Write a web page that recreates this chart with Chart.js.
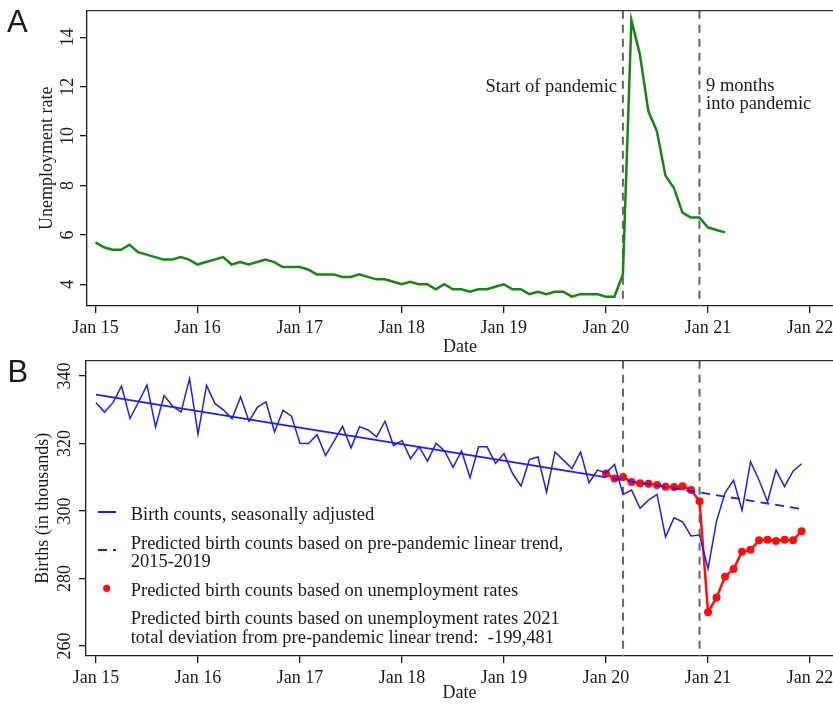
<!DOCTYPE html>
<html>
<head>
<meta charset="utf-8">
<script src="https://cdn.jsdelivr.net/npm/chart.js@4.4.1/dist/chart.umd.min.js"></script>
<style>
  html, body { margin: 0; padding: 0; background: #fff; }
  #wrap { position: relative; width: 833px; height: 705px; overflow: hidden; }
  #wrap canvas { position: absolute; left: 0; }
  #unempChart { top: 0; }
  #birthChart { top: 355px; }
</style>
</head>
<body>
<div id="wrap">
  <canvas id="unempChart" width="833" height="358"></canvas>
  <canvas id="birthChart" width="833" height="350"></canvas>
</div>
<script>
// month helpers: "YYYY-MM" -> months since Jan 2015
function monthIndex(s) {
  const [y, m] = s.split("-").map(Number);
  return (y - 2015) * 12 + (m - 1);
}
function monthRange(from, to) {
  const out = [];
  let [y, m] = from.split("-").map(Number);
  const [ye, me] = to.split("-").map(Number);
  while (y < ye || (y === ye && m <= me)) {
    out.push(y + "-" + String(m).padStart(2, "0"));
    m++;
    if (m > 12) { m = 1; y++; }
  }
  return out;
}

// ---- data ----
const unemploymentMonths = monthRange("2015-01", "2021-03");
const unemploymentRate = [
  5.7, 5.5, 5.4, 5.4, 5.6, 5.3, 5.2, 5.1, 5.0, 5.0, 5.1, 5.0,
  4.8, 4.9, 5.0, 5.1, 4.8, 4.9, 4.8, 4.9, 5.0, 4.9, 4.7, 4.7,
  4.7, 4.6, 4.4, 4.4, 4.4, 4.3, 4.3, 4.4, 4.3, 4.2, 4.2, 4.1,
  4.0, 4.1, 4.0, 4.0, 3.8, 4.0, 3.8, 3.8, 3.7, 3.8, 3.8, 3.9,
  4.0, 3.8, 3.8, 3.6, 3.7, 3.6, 3.7, 3.7, 3.5, 3.6, 3.6, 3.6,
  3.5, 3.5, 4.4, 14.7, 13.3, 11.0, 10.2, 8.4, 7.9, 6.9, 6.7, 6.7,
  6.3, 6.2, 6.1
];

const birthMonths = monthRange("2015-01", "2021-12");
const birthCounts = [
  332.1, 329.3, 332.1, 337.0, 327.4, 332.3, 337.3, 324.9, 334.2, 331.1, 329.3, 339.2,
  322.8, 337.2, 331.8, 329.9, 327.3, 333.8, 326.6, 330.8, 332.3, 323.4, 329.8, 328.1,
  320.0, 320.0, 322.6, 316.4, 320.7, 325.1, 318.7, 325.0, 324.0, 322.0, 326.6, 319.4,
  320.9, 315.5, 319.0, 314.8, 320.1, 317.8, 312.9, 317.8, 309.9, 319.0, 319.0, 314.1,
  317.0, 311.1, 307.4, 315.3, 316.0, 305.6, 317.5, 315.0, 312.6, 317.5, 308.4, 312.1,
  311.3, 313.8, 304.9, 306.2, 300.8, 303.2, 304.9, 292.3, 298.0, 296.8, 292.6, 292.9,
  282.9, 297.0, 305.4, 309.1, 300.2, 314.6, 309.1, 302.8, 312.1, 307.2, 311.8, 314.0
];

const trendMonths = ["2015-01", "2019-12"];
const trendValues = [334.5, 310.4];
const trendForecastMonths = ["2019-12", "2021-12"];
const trendForecastValues = [310.4, 300.6];

const predictedMonths = monthRange("2020-01", "2021-12");
const predictedBirths = [
  311.1, 309.6, 310.1, 308.6, 308.2, 308.1, 307.7, 307.2, 307.1, 307.3, 306.2, 302.9,
  270.0, 274.4, 280.5, 282.8, 287.9, 288.5, 291.3, 291.5, 291.1, 291.5, 291.3, 294.0
];

const eventMonths = ["2020-03", "2020-12"];
const xTickLabels = ["Jan 15", "Jan 16", "Jan 17", "Jan 18", "Jan 19", "Jan 20", "Jan 21", "Jan 22"];
const unempTicks = [4, 6, 8, 10, 12, 14];
const birthTicks = [260, 280, 300, 320, 340];

const legendLabels = [
  ["Birth counts, seasonally adjusted"],
  ["Predicted birth counts based on pre-pandemic linear trend,", "2015-2019"],
  ["Predicted birth counts based on unemployment rates"],
  ["Predicted birth counts based on unemployment rates 2021",
   "total deviation from pre-pandemic linear trend:  -199,481"]
];

// ---- styling ----
const SERIF = "'Liberation Serif', 'Times New Roman', serif";
const SANS = "'Liberation Sans', Arial, sans-serif";
const INK = "#1a1a1a";
const GREEN = "#118811";
const BLUE = "#1c1cff";
const RED = "#ff0d0d";

function tickIndex(label) {
  return (2000 + Number(label.slice(4)) - 2015) * 12;
}
function points(months, values) {
  return values.map((v, i) => ({ x: monthIndex(months[i]), y: v }));
}

function xAxis(min, height, titlePad) {
  return {
    type: "linear",
    min: min,
    max: 86.7,
    afterBuildTicks: (s) => { s.ticks = xTickLabels.map((l) => ({ value: tickIndex(l) })); },
    ticks: {
      callback: (v, i) => xTickLabels[i],
      font: { family: SERIF, size: 18 },
      color: INK,
      padding: 4,
      maxRotation: 0,
      autoSkip: false
    },
    grid: { display: true, drawOnChartArea: false, drawTicks: true, tickLength: 7, color: INK, lineWidth: 1.3 },
    border: { display: true, color: INK, width: 1.3 },
    title: { display: true, text: "Date", font: { family: SERIF, size: 18 }, color: INK, padding: { top: 0, bottom: titlePad } },
    afterFit: (s) => { s.height = height; s.paddingLeft = 0; s.paddingRight = 0; }
  };
}

function yAxis(min, max, ticks, title, width, titlePad) {
  return {
    min: min,
    max: max,
    afterBuildTicks: (s) => { s.ticks = ticks.map((v) => ({ value: v })); },
    ticks: { display: false },
    grid: { display: true, drawOnChartArea: false, drawTicks: true, tickLength: 7, color: INK, lineWidth: 1.3 },
    border: { display: true, color: INK, width: 1.3 },
    title: { display: true, text: title, font: { family: SERIF, size: 18 }, color: INK, padding: { top: titlePad, bottom: 0 } },
    afterFit: (s) => { s.width = width; }
  };
}

// dashed event lines, top frame line, rotated y tick labels, panel letter, extras
const panelDecor = {
  id: "panelDecor",
  beforeDatasetsDraw(chart) {
    const { ctx, chartArea: a, scales: { x } } = chart;
    ctx.save();
    ctx.strokeStyle = "#666";
    ctx.lineWidth = 2;
    ctx.setLineDash([8, 6]);
    eventMonths.forEach((m) => {
      const px = x.getPixelForValue(monthIndex(m));
      ctx.beginPath();
      ctx.moveTo(px, a.top);
      ctx.lineTo(px, a.bottom);
      ctx.stroke();
    });
    ctx.restore();
  },
  afterDraw(chart, args, opts) {
    const { ctx, chartArea: a, scales: { y } } = chart;
    ctx.save();
    ctx.strokeStyle = "#333";
    ctx.lineWidth = 1.3;
    ctx.beginPath();
    ctx.moveTo(a.left, a.top);
    ctx.lineTo(a.right, a.top);
    ctx.stroke();

    ctx.fillStyle = INK;
    ctx.font = "18px " + SERIF;
    ctx.textAlign = "center";
    ctx.textBaseline = "middle";
    opts.yTicks.forEach((v) => {
      ctx.save();
      ctx.translate(opts.tickLabelX, y.getPixelForValue(v));
      ctx.rotate(-Math.PI / 2);
      ctx.fillText(String(v), 0, 0);
      ctx.restore();
    });

    ctx.font = "31px " + SANS;
    ctx.textAlign = "left";
    ctx.textBaseline = "alphabetic";
    ctx.fillText(opts.letter, opts.letterX, opts.letterY);

    if (opts.extra) opts.extra(ctx, chart);
    ctx.restore();
  }
};

// ---- Panel A ----
new Chart(document.getElementById("unempChart"), {
  type: "line",
  data: {
    datasets: [{
      data: points(unemploymentMonths, unemploymentRate),
      borderColor: GREEN,
      borderWidth: 2.5,
      pointRadius: 0,
      tension: 0
    }]
  },
  options: {
    responsive: false,
    animation: false,
    layout: { autoPadding: false, padding: { top: 10.7, right: 0, bottom: 0, left: 0 } },
    plugins: {
      legend: { display: false },
      tooltip: { enabled: false },
      panelDecor: {
        yTicks: unempTicks,
        tickLabelX: 68.3,
        letter: "A",
        letterX: 7,
        letterY: 32,
        extra: (ctx) => {
          ctx.font = "18.5px " + SERIF;
          ctx.textBaseline = "alphabetic";
          ctx.textAlign = "right";
          ctx.fillText("Start of pandemic", 617, 91.5);
          ctx.textAlign = "left";
          ctx.fillText("9 months", 706, 91);
          ctx.fillText("into pandemic", 706, 109);
        }
      }
    },
    scales: {
      x: xAxis(-1.0, 52, 0.2),
      y: yAxis(3.121, 15.077, unempTicks, "Unemployment rate", 87, 36)
    }
  },
  plugins: [panelDecor]
});

// ---- Panel B ----
new Chart(document.getElementById("birthChart"), {
  type: "line",
  data: {
    datasets: [
      {
        data: points(birthMonths, birthCounts),
        borderColor: BLUE,
        borderWidth: 1.5,
        pointRadius: 0,
        tension: 0
      },
      {
        data: points(trendMonths, trendValues),
        borderColor: BLUE,
        borderWidth: 1.8,
        pointRadius: 0
      },
      {
        data: points(trendForecastMonths, trendForecastValues),
        borderColor: BLUE,
        borderWidth: 1.8,
        borderDash: [9, 6],
        pointRadius: 0
      },
      {
        data: points(predictedMonths, predictedBirths),
        borderColor: RED,
        backgroundColor: RED,
        borderWidth: 2.5,
        pointRadius: 4,
        pointBorderWidth: 0,
        pointBackgroundColor: RED
      }
    ]
  },
  options: {
    responsive: false,
    animation: false,
    layout: { autoPadding: false, padding: { top: 5.7, right: 0, bottom: 0, left: 0 } },
    plugins: {
      legend: { display: false },
      tooltip: { enabled: false },
      panelDecor: {
        yTicks: birthTicks,
        tickLabelX: 65.5,
        letter: "B",
        letterX: 7.5,
        letterY: 26.7,
        extra: (ctx) => {
          // legend keys
          ctx.strokeStyle = BLUE;
          ctx.lineWidth = 2;
          ctx.beginPath(); ctx.moveTo(98, 157); ctx.lineTo(116, 157); ctx.stroke();
          ctx.setLineDash([9, 6]);
          ctx.beginPath(); ctx.moveTo(98, 195); ctx.lineTo(116, 195); ctx.stroke();
          ctx.setLineDash([]);
          ctx.fillStyle = RED;
          ctx.beginPath(); ctx.arc(106.7, 233.3, 3.6, 0, Math.PI * 2); ctx.fill();
          // legend text
          ctx.fillStyle = INK;
          ctx.font = "18.5px " + SERIF;
          ctx.textAlign = "left";
          ctx.textBaseline = "alphabetic";
          const baselines = [[165], [194, 212], [240.5], [269, 287.5]];
          legendLabels.forEach((lines, i) => {
            lines.forEach((t, j) => ctx.fillText(t, 130.7, baselines[i][j]));
          });
        }
      }
    },
    scales: {
      x: xAxis(-1.18, 49, 1.2),
      y: yAxis(257.04, 344.53, birthTicks, "Births (in thousands)", 86, 32)
    }
  },
  plugins: [panelDecor]
});
</script>
</body>
</html>
